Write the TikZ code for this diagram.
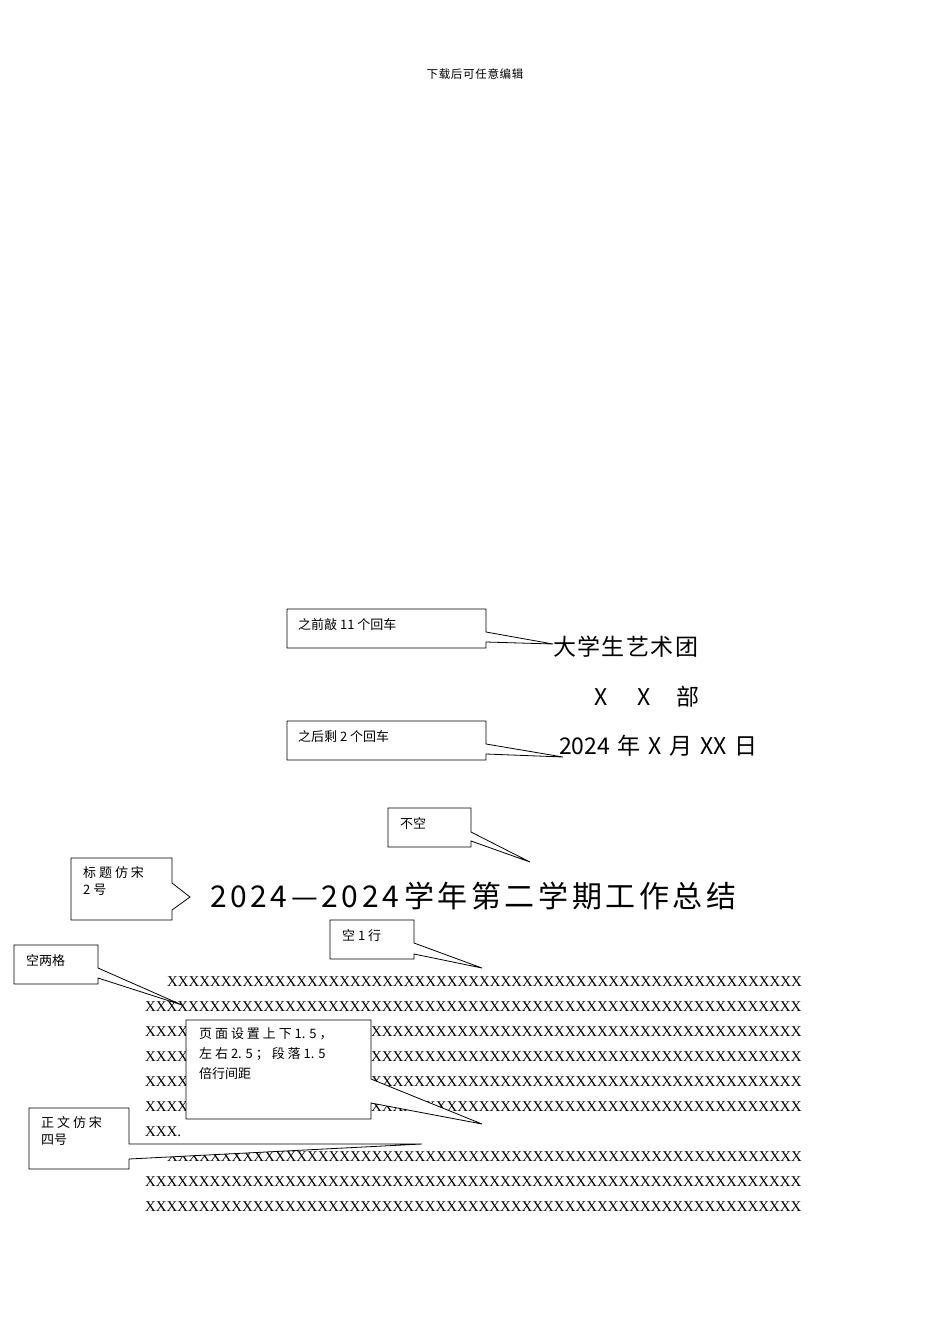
\documentclass[tikz,border=0pt]{standalone}
\usepackage{fontspec}
\setmainfont{Liberation Serif}
\newfontfamily\cjk{Noto Sans CJK SC}
\newfontfamily\cjkls[LetterSpace=6]{Noto Sans CJK SC}
\newfontfamily\cjktitle[LetterSpace=12]{Noto Sans CJK SC}
\begin{document}
\begin{tikzpicture}[x=1pt,y=-1pt,
  callout/.style={draw,fill=white,line width=0.8pt},
  ctext/.style={anchor=north west,font=\cjk\fontsize{13}{17}\selectfont,inner sep=0pt,align=left},
  xline/.style={anchor=west,inner sep=0pt,font=\fontsize{14.9}{15}\selectfont}]
\useasboundingbox[fill=white] (0,0) rectangle (950,1344);
\node[font=\cjkls\fontsize{11.5}{11.5}\selectfont] (hdr) at (475,74) {下载后可任意编辑};
\node[anchor=west,inner sep=0pt,font=\cjkls\fontsize{23}{23}\selectfont] (t1) at (553,647) {大学生艺术团};
\node[anchor=west,inner sep=0pt,font=\cjk\fontsize{23}{23}\selectfont] (t2) at (594,697) {X\hspace{30pt}X\hspace{26pt}部};
\node[anchor=west,inner sep=0pt,font=\cjk\fontsize{23}{23}\selectfont] (t3) at (559,746) {2024\,\,年\,\,X\,\,月\,\,XX\,\,日};
\node[anchor=west,inner sep=0pt,font=\cjktitle\fontsize{30}{30}\selectfont] (title) at (210,896) {2024—2024\,学年第二学期工作总结};
% body text
\def\XL{XXXXXXXXXXXXXXXXXXXXXXXXXXXXXXXXXXXXXXXXXXXXXXXXXXXXXXXXXXXXX}
\def\XI{XXXXXXXXXXXXXXXXXXXXXXXXXXXXXXXXXXXXXXXXXXXXXXXXXXX}
\def\XR{XXXXXXXXXXXXXXXXXXXXXXXXXXXXXXXXXXXXXXXX}
\node[xline] (l1) at (167,982) {\XI XXXXXXXX};
\node[xline] (l2) at (145,1007) {\XL};
\foreach \y/\n in {1032/3,1057/4,1082/5,1107/6}{
  \node[xline] (l\n a) at (145,\y) {XXXX};
  \node[xline] (l\n b) at (371,\y) {\XR};
}
\node[xline] (l7) at (145,1132) {XXX.};
\node[xline] (l8) at (167,1157) {\XI XXXXXXXX};
\node[xline] (l9) at (145,1182) {\XL};
\node[xline] (l10) at (145,1207) {\XL};
% callouts
\draw[callout] (287,609) -- (486,609) -- (486,632) -- (553,644) -- (486,642) -- (486,648) -- (287,648) -- cycle;
\node[ctext] (c1) at (298,618) {之前敲 11 个回车};
\draw[callout] (287,721) -- (486,721) -- (486,744) -- (563,757) -- (486,754) -- (486,760) -- (287,760) -- cycle;
\node[ctext] (c2) at (298,730) {之后剩 2 个回车};
\draw[callout] (388,808) -- (471,808) -- (471,832) -- (530,862) -- (471,841) -- (471,847) -- (388,847) -- cycle;
\node[ctext] (c3) at (400,817) {不空};
\draw[callout] (71,858) -- (172,858) -- (172,883) -- (190,897) -- (172,910) -- (172,920) -- (71,920) -- cycle;
\node[ctext] (c4) at (83,866) {标 题 仿 宋\\2 号};
\draw[callout] (330,920) -- (414,920) -- (414,943) -- (482,968) -- (414,954) -- (414,959) -- (330,959) -- cycle;
\node[ctext] (c5) at (342,929) {空 1 行};
\draw[callout] (14,945) -- (98,945) -- (98,968) -- (182,1005) -- (98,978) -- (98,984) -- (14,984) -- cycle;
\node[ctext] (c6) at (26,954) {空两格};
\draw[callout] (186,1020) -- (371,1020) -- (371,1079) -- (482,1124) -- (371,1103) -- (371,1119) -- (186,1119) -- cycle;
\node[ctext,font=\cjk\fontsize{13}{20}\selectfont] (c7) at (199,1028) {页 面 设 置 上 下 1. 5 ，\\左 右 2. 5 ； 段 落 1. 5\\倍行间距};
\draw[callout] (29,1108) -- (129,1108) -- (129,1144) -- (422,1144) -- (129,1159) -- (129,1169) -- (29,1169) -- cycle;
\node[ctext] (c8) at (41,1116) {正 文 仿 宋\\四号};
\end{tikzpicture}
\end{document}
